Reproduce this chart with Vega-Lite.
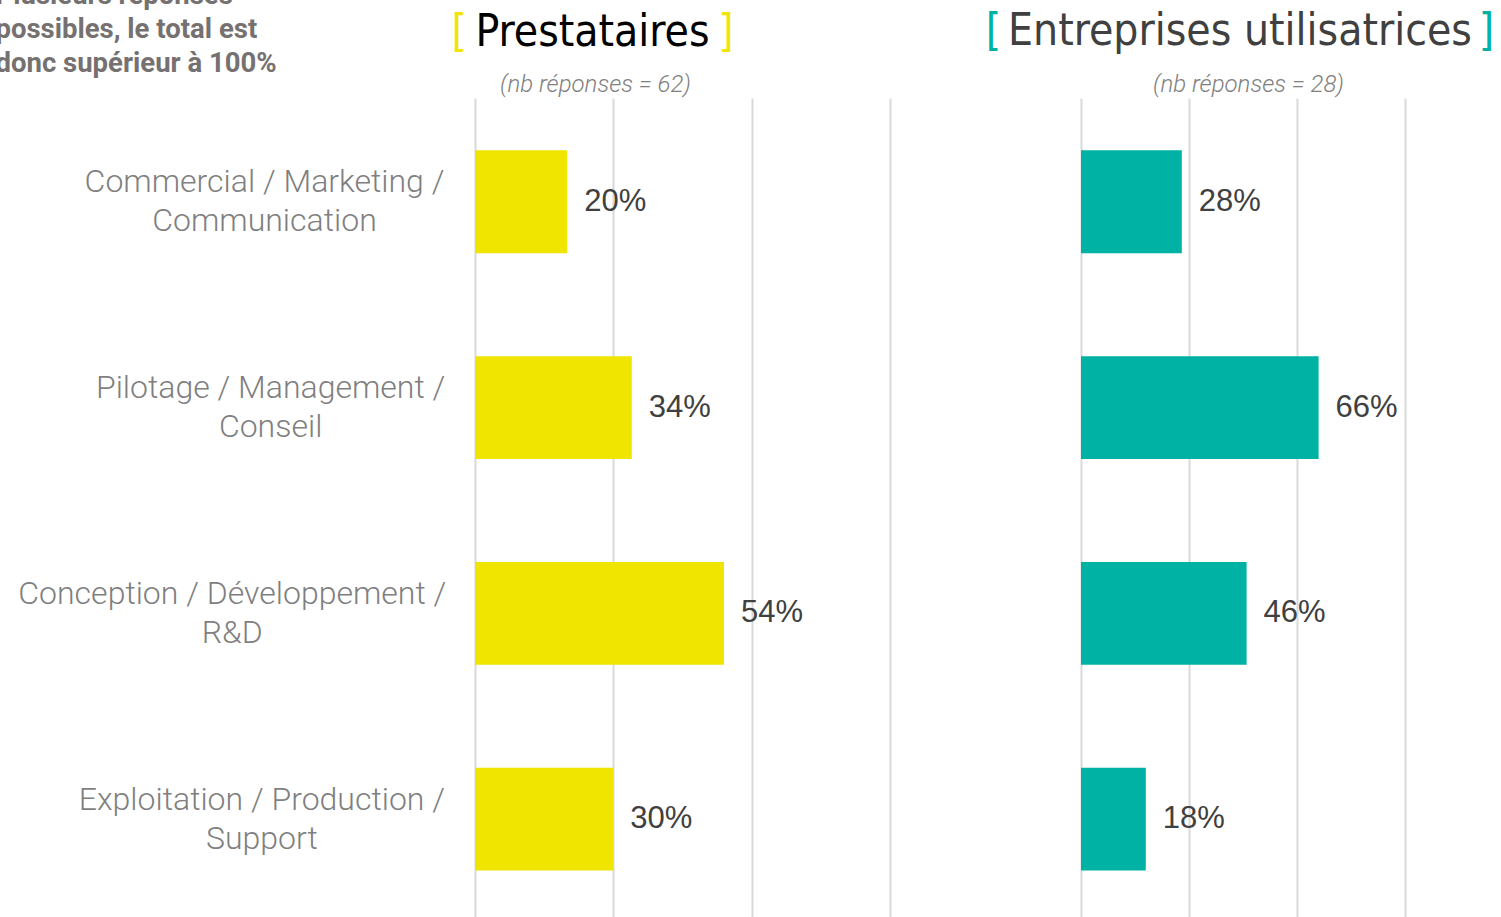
{
  "$schema": "https://vega.github.io/schema/vega-lite/v6.json",
  "autosize": {"type": "none"},
  "padding": {"left": 475, "top": 98, "right": 1026, "bottom": 819},
  "background": "white",
  "bounds": "flush",
  "spacing": 191,
  "config": {"view": {"stroke": null}},
  "datasets": {
    "prest": [
      {"cat": "Commercial / Marketing /\nCommunication", "pct": 0.20},
      {"cat": "Pilotage / Management /\nConseil", "pct": 0.34},
      {"cat": "Conception / Développement /\nR&D", "pct": 0.54},
      {"cat": "Exploitation / Production /\nSupport", "pct": 0.30}
    ],
    "entr": [
      {"cat": "Commercial / Marketing /\nCommunication", "pct": 0.28},
      {"cat": "Pilotage / Management /\nConseil", "pct": 0.66},
      {"cat": "Conception / Développement /\nR&D", "pct": 0.46},
      {"cat": "Exploitation / Production /\nSupport", "pct": 0.18}
    ]
  },
  "hconcat": [
    {
      "width": 415,
      "height": 819,
      "data": {"name": "prest"},
      "title": {
        "text": "[\u00a0\u00a0\u00a0\u00a0\u00a0\u00a0\u00a0\u00a0\u00a0\u00a0\u00a0\u00a0\u00a0\u00a0\u00a0\u00a0\u00a0\u00a0\u00a0\u00a0]",
        "subtitle": "Prestataires",
        "color": "#F0E500",
        "subtitleColor": "#000000",
        "font": "DejaVu Sans Condensed, DejaVu Sans, sans-serif",
        "subtitleFont": "DejaVu Sans Condensed, DejaVu Sans, sans-serif",
        "fontSize": 44,
        "subtitleFontSize": 44,
        "fontWeight": "normal",
        "subtitleFontWeight": "normal",
        "subtitlePadding": -44,
        "anchor": "middle",
        "dx": -90,
        "offset": -74
      },
      "encoding": {
        "y": {
          "field": "cat",
          "type": "nominal",
          "sort": null,
          "scale": {"paddingInner": 0.5, "paddingOuter": 0.24, "align": 0.53},
          "axis": {
            "title": ["Plusieurs réponses", "possibles, le total est", "donc supérieur à 100%"],
            "titleAngle": 0,
            "titleAlign": "left",
            "titleBaseline": "alphabetic",
            "titleX": -480,
            "titleY": -95,
            "titleFont": "Roboto",
            "titleFontWeight": "bold",
            "titleFontSize": 27.5,
            "titleColor": "#767171",
            "titleLineHeight": 34,
            "labelFont": "Roboto",
            "labelFontWeight": 300,
            "labelFontSize": 32,
            "labelColor": "#7f7f7f",
            "labelLineHeight": 39,
            "labelOffset": -19.5,
            "labelPadding": {"expr": "30 + 8.72*length(split(datum.value, '\\n')[0]) - 4.8*(length(split(datum.value, '\\n')[0]) - length(replace(split(datum.value, '\\n')[0], regexp('[il ]', 'g'), ''))) - 3.04*(length(split(datum.value, '\\n')[0]) - length(replace(split(datum.value, '\\n')[0], regexp('[tr/]', 'g'), ''))) + 5.25*(length(split(datum.value, '\\n')[0]) - length(replace(split(datum.value, '\\n')[0], regexp('[mMwW]', 'g'), '')))"},
            "labelAlign": "center",
            "labelBaseline": "middle",
            "labelLimit": 0,
            "labelExpr": "split(datum.label, '\\n')",
            "domain": false,
            "ticks": false,
            "grid": false
          }
        }
      },
      "layer": [
        {
          "mark": {"type": "bar", "color": "#F0E500"},
          "encoding": {
            "x": {
              "field": "pct",
              "type": "quantitative",
              "scale": {"domain": [0, 0.9], "nice": false},
              "axis": {
                "orient": "top",
                "values": [0, 0.3, 0.6, 0.9],
                "labels": false,
                "ticks": false,
                "domain": false,
                "grid": true,
                "gridColor": "#d9d9d9",
                "gridWidth": 2,
                "title": "(nb réponses = 62)",
                "titleFont": "Roboto",
                "titleFontWeight": 300,
                "titleFontStyle": "italic",
                "titleFontSize": 24,
                "titleColor": "#808080",
                "titleAlign": "center",
                "titleBaseline": "alphabetic",
                "titleX": 120,
                "titleY": -7
              }
            }
          }
        },
        {
          "mark": {"type": "text", "align": "left", "baseline": "middle", "dx": 17, "font": "Liberation Sans, Arial, sans-serif", "fontSize": 31, "color": "#404040"},
          "encoding": {
            "x": {"field": "pct", "type": "quantitative"},
            "text": {"field": "pct", "type": "quantitative", "format": ".0%"}
          }
        }
      ]
    },
    {
      "width": 324,
      "height": 819,
      "data": {"name": "entr"},
      "title": {
        "text": "[\u00a0\u00a0\u00a0\u00a0\u00a0\u00a0\u00a0\u00a0\u00a0\u00a0\u00a0\u00a0\u00a0\u00a0\u00a0\u00a0\u00a0\u00a0\u00a0\u00a0\u00a0\u00a0\u00a0\u00a0\u00a0\u00a0\u00a0\u00a0\u00a0\u00a0\u00a0\u00a0\u00a0\u00a0\u00a0\u00a0\u00a0\u00a0]",
        "subtitle": "Entreprises utilisatrices",
        "color": "#00B2A3",
        "subtitleColor": "#404040",
        "font": "DejaVu Sans Condensed, DejaVu Sans, sans-serif",
        "subtitleFont": "DejaVu Sans Condensed, DejaVu Sans, sans-serif",
        "fontSize": 44,
        "subtitleFontSize": 44,
        "fontWeight": "normal",
        "subtitleFontWeight": "normal",
        "subtitlePadding": -44,
        "anchor": "middle",
        "dx": -3,
        "offset": 18
      },
      "encoding": {
        "y": {
          "field": "cat",
          "type": "nominal",
          "sort": null,
          "scale": {"paddingInner": 0.5, "paddingOuter": 0.24, "align": 0.53},
          "axis": null
        }
      },
      "layer": [
        {
          "mark": {"type": "bar", "color": "#00B2A3"},
          "encoding": {
            "x": {
              "field": "pct",
              "type": "quantitative",
              "scale": {"domain": [0, 0.9], "nice": false},
              "axis": {
                "orient": "top",
                "values": [0, 0.3, 0.6, 0.9],
                "labels": false,
                "ticks": false,
                "domain": false,
                "grid": true,
                "gridColor": "#d9d9d9",
                "gridWidth": 2,
                "title": "(nb réponses = 28)",
                "titleFont": "Roboto",
                "titleFontWeight": 300,
                "titleFontStyle": "italic",
                "titleFontSize": 24,
                "titleColor": "#808080",
                "titleAlign": "center",
                "titleBaseline": "alphabetic",
                "titleX": 167,
                "titleY": -7
              }
            }
          }
        },
        {
          "mark": {"type": "text", "align": "left", "baseline": "middle", "dx": 17, "font": "Liberation Sans, Arial, sans-serif", "fontSize": 31, "color": "#404040"},
          "encoding": {
            "x": {"field": "pct", "type": "quantitative"},
            "text": {"field": "pct", "type": "quantitative", "format": ".0%"}
          }
        }
      ]
    }
  ]
}
